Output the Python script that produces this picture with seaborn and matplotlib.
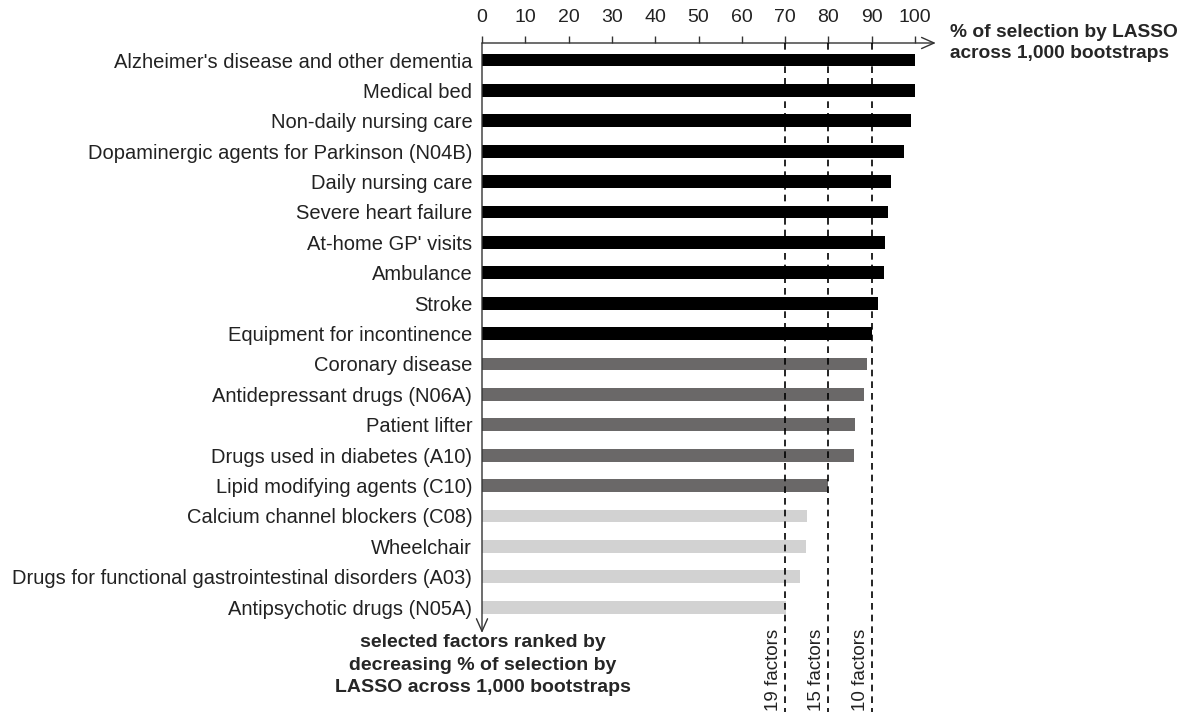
import numpy as np
import pandas as pd
import seaborn as sns
import matplotlib.pyplot as plt

# factors ranked by % of selection by LASSO
factors = [
    "Alzheimer's disease and other dementia",
    "Medical bed",
    "Non-daily nursing care",
    "Dopaminergic agents for Parkinson (N04B)",
    "Daily nursing care",
    "Severe heart failure",
    "At-home GP' visits",
    "Ambulance",
    "Stroke",
    "Equipment for incontinence",
    "Coronary disease",
    "Antidepressant drugs (N06A)",
    "Patient lifter",
    "Drugs used in diabetes (A10)",
    "Lipid modifying agents (C10)",
    "Calcium channel blockers (C08)",
    "Wheelchair",
    "Drugs for functional gastrointestinal disorders (A03)",
    "Antipsychotic drugs (N05A)",
]
pct_selected = [100, 100, 99.1, 97.5, 94.5, 93.8, 93.1, 92.8, 91.5, 90.1,
                88.9, 88.2, 86.1, 85.9, 79.9, 75.1, 74.8, 73.4, 70.2]
group = ["top10"] * 10 + ["top15"] * 5 + ["top19"] * 4
group_colors = {"top10": "#000000", "top15": "#6b6767", "top19": "#d2d2d2"}

cutoffs = [70, 80, 90]
cutoff_labels = ["19 factors", "15 factors", "10 factors"]
xticks = list(range(0, 101, 10))

df = pd.DataFrame({"factor": factors, "pct": pct_selected, "group": group})

sns.set_style("white")
plt.rcParams["font.family"] = ["Liberation Sans", "DejaVu Sans"]

fig = plt.figure(figsize=(12, 7.16), dpi=100)
# axes spans from top axis line (y=43px) to bottom of the dashed lines (y=712px)
ax = fig.add_axes([482 / 1200, (716 - 712) / 716, 433 / 1200, 669 / 716])

sns.barplot(data=df, x="pct", y="factor", hue="group", palette=group_colors,
            orient="h", width=0.42, dodge=False, legend=False, linewidth=0,
            ax=ax)

top = -0.56
bottom = 21.45
ax.set_xlim(0, 100)
ax.set_ylim(bottom, top)

for s in ax.spines.values():
    s.set_visible(False)

# cut-off lines
ax.vlines(cutoffs, top, bottom, colors="black", linestyles=(0, (4, 3)),
          linewidth=1.2, zorder=4, clip_on=False)
for c, lab in zip(cutoffs, cutoff_labels):
    ax.text(c - 0.7, bottom - 0.02, lab, rotation=90, ha="right", va="bottom",
            fontsize=13.5, color="#222222")

# axes with arrows
ax.annotate("", xy=(104.8, top), xytext=(0, top),
            arrowprops=dict(arrowstyle="->,head_length=0.9,head_width=0.4",
                            color="#333333", lw=1, shrinkA=0, shrinkB=0),
            annotation_clip=False)
ax.annotate("", xy=(0, 18.85), xytext=(0, top),
            arrowprops=dict(arrowstyle="->,head_length=0.9,head_width=0.4",
                            color="#333333", lw=1, shrinkA=0, shrinkB=0),
            annotation_clip=False)

ax.xaxis.tick_top()
ax.set_xticks(xticks)
ax.set_xticklabels([str(t) for t in xticks], fontsize=14, color="#222222")
ax.tick_params(axis="x", direction="out", length=5, width=1, color="#333333",
               pad=7, top=True, bottom=False)
ax.tick_params(axis="y", length=0, pad=7, labelsize=14.5, labelcolor="#222222")
ax.set_xlabel("")
ax.set_ylabel("")

fig.text(950 / 1200, 1 - 43 / 716, "% of selection by LASSO\nacross 1,000 bootstraps",
         ha="left", va="center", fontsize=13.8, fontweight="bold", linespacing=1.3)
fig.text(483 / 1200, 1 - 665 / 716,
         "selected factors ranked by\ndecreasing % of selection by\nLASSO across 1,000 bootstraps",
         ha="center", va="center", fontsize=14, fontweight="bold", linespacing=1.4)

fig.savefig("out.png", dpi=100)
